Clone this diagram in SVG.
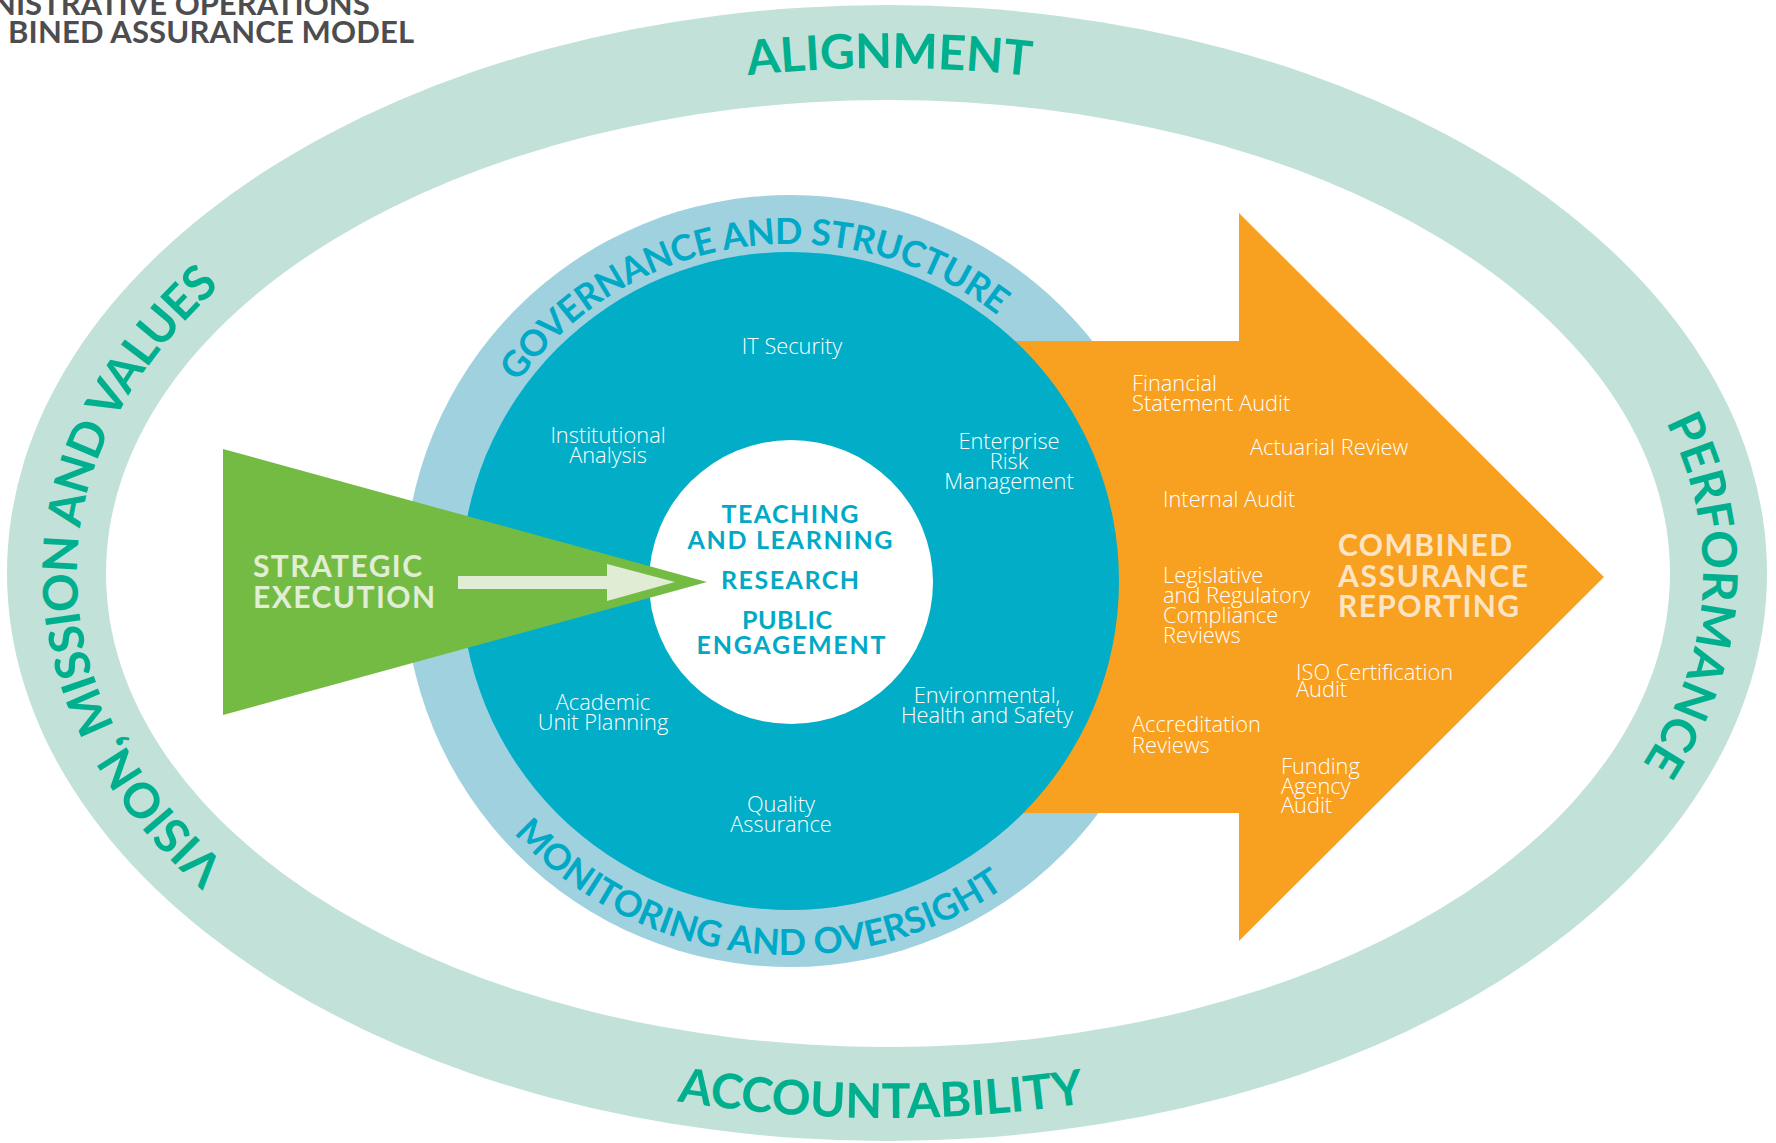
<svg xmlns="http://www.w3.org/2000/svg" width="1776" height="1143" viewBox="0 0 1776 1143">
<defs>
<style>
.ring{font-family:Lato,"Open Sans","Liberation Sans",sans-serif;font-weight:700;font-size:48px;fill:#00af8e}
.gov{font-family:Lato,"Open Sans","Liberation Sans",sans-serif;font-weight:700;font-size:36px;fill:#00a9c6}
.lbl{font-family:"Open Sans","Liberation Sans",sans-serif;font-weight:300;font-size:21.8px;fill:#ffffff}
.mid{text-anchor:middle}
.ctr{font-family:Lato,"Open Sans","Liberation Sans",sans-serif;font-weight:700;font-size:25px;fill:#00a9c6;text-anchor:middle}
.car{font-family:Lato,"Open Sans","Liberation Sans",sans-serif;font-weight:700;font-size:30px;fill:#fde4c4}
.se{font-family:Lato,"Open Sans","Liberation Sans",sans-serif;font-weight:700;font-size:30px;fill:#e2edd5}
.title{font-family:Lato,"Open Sans","Liberation Sans",sans-serif;font-weight:700;font-size:31px;fill:#4d4d4f}
</style>
<path id="p-top" d="M 77,573 A 810,505 0 0 1 1697,573"/>
<path id="p-left" d="M 887,1078 A 810,505 0 0 1 887,68"/>
<path id="p-right" d="M 887,68 A 816,505 0 0 1 887,1078"/>
<path id="p-bottom" d="M 34,573 A 853,545 0 0 0 1740,573"/>
<path id="c-top" d="M 453,581 A 337,337 0 1 1 1127,581"/>
<path id="c-bottom" d="M 416,581 A 374,374 0 0 0 1164,581"/>
</defs>
<rect width="1776" height="1143" fill="#ffffff"/>

<g id="title">
<text class="title" x="-8" y="15">NISTRATIVE OPERATIONS</text>
<text class="title" x="8" y="43" textLength="406">BINED ASSURANCE MODEL</text>
</g>

<g id="outer-ring">
<ellipse cx="887" cy="573" rx="880" ry="568" fill="#c1e1d9"/>
<ellipse cx="888" cy="573.5" rx="782" ry="473.5" fill="#ffffff"/>
<text class="ring"><textPath href="#p-top" startOffset="1049" text-anchor="middle">ALIGNMENT</textPath></text>
<text class="ring" letter-spacing="-1"><textPath href="#p-left" startOffset="1042" text-anchor="middle">VISION, MISSION AND VALUES</textPath></text>
<text class="ring"><textPath href="#p-right" startOffset="1075" text-anchor="middle">PERFORMANCE</textPath></text>
<text class="ring"><textPath href="#p-bottom" startOffset="1105" text-anchor="middle">ACCOUNTABILITY</textPath></text>
</g>

<g id="governance-ring">
<circle cx="790" cy="581" r="386" fill="#a0d1df"/>
</g>

<g id="combined-assurance">
<polygon points="790,341 1239,341 1239,213 1604,577 1239,941 1239,813 790,813" fill="#f8a01f"/>
</g>

<g id="core-circle">
<circle cx="790" cy="581" r="329" fill="#02adc7"/>
<circle cx="791" cy="582" r="142" fill="#ffffff"/>
</g>

<g id="governance-labels">
<text class="gov" letter-spacing="-0.5"><textPath href="#c-top" startOffset="482" text-anchor="middle">GOVERNANCE AND STRUCTURE</textPath></text>
<text class="gov"><textPath href="#c-bottom" startOffset="546" text-anchor="middle">MONITORING AND OVERSIGHT</textPath></text>
</g>

<g id="strategic-execution">
<polygon points="223,449 707,582 223,715" fill="#74bb44"/>
<text class="se" x="253" y="577" textLength="169">STRATEGIC</text>
<text class="se" x="253" y="608" textLength="182">EXECUTION</text>
</g>

<g id="connectors">
<polygon points="458,576 607,576 607,564 675,582 607,601 607,589 458,589" fill="#e0ecd4"/>
</g>

<g id="core-activities">
<text class="ctr" x="790" y="523" textLength="137">TEACHING</text>
<text class="ctr" x="790" y="549" textLength="205">AND LEARNING</text>
<text class="ctr" x="790" y="589" textLength="138">RESEARCH</text>
<text class="ctr" x="787" y="629" textLength="90">PUBLIC</text>
<text class="ctr" x="791" y="654" textLength="189">ENGAGEMENT</text>
</g>

<g id="it-security"><text class="lbl mid" x="792" y="354">IT Security</text></g>
<g id="institutional-analysis"><text class="lbl mid" x="608" y="443">Institutional</text><text class="lbl mid" x="608" y="463">Analysis</text></g>
<g id="enterprise-risk"><text class="lbl mid" x="1009" y="449">Enterprise</text><text class="lbl mid" x="1009" y="469">Risk</text><text class="lbl mid" x="1009" y="489">Management</text></g>
<g id="academic-unit-planning"><text class="lbl mid" x="603" y="710">Academic</text><text class="lbl mid" x="603" y="730">Unit Planning</text></g>
<g id="ehs"><text class="lbl mid" x="987" y="703">Environmental,</text><text class="lbl mid" x="987" y="723">Health and Safety</text></g>
<g id="quality-assurance"><text class="lbl mid" x="781" y="812">Quality</text><text class="lbl mid" x="781" y="832">Assurance</text></g>

<g id="financial-statement-audit"><text class="lbl" x="1132" y="391">Financial</text><text class="lbl" x="1132" y="411">Statement Audit</text></g>
<g id="actuarial-review"><text class="lbl" x="1250" y="455">Actuarial Review</text></g>
<g id="internal-audit"><text class="lbl" x="1163" y="507">Internal Audit</text></g>
<g id="legislative"><text class="lbl" x="1163" y="583">Legislative</text><text class="lbl" x="1163" y="603">and Regulatory</text><text class="lbl" x="1163" y="623">Compliance</text><text class="lbl" x="1163" y="643">Reviews</text></g>
<g id="iso-audit"><text class="lbl" x="1296" y="680">ISO Certification</text><text class="lbl" x="1296" y="697">Audit</text></g>
<g id="accreditation"><text class="lbl" x="1132" y="732">Accreditation</text><text class="lbl" x="1132" y="753">Reviews</text></g>
<g id="funding-agency"><text class="lbl" x="1281" y="774">Funding</text><text class="lbl" x="1281" y="794">Agency</text><text class="lbl" x="1281" y="813">Audit</text></g>
<g id="combined-assurance-reporting">
<text class="car" x="1338" y="556" textLength="174">COMBINED</text>
<text class="car" x="1338" y="587" textLength="190">ASSURANCE</text>
<text class="car" x="1338" y="617" textLength="181">REPORTING</text>
</g>
</svg>
